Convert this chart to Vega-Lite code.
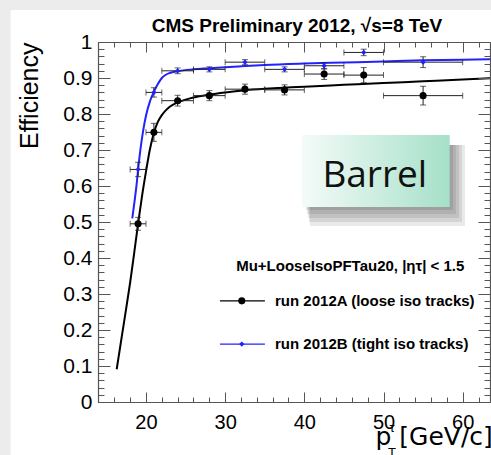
{
  "$schema": "https://vega.github.io/schema/vega-lite/v6.json",
  "width": 392,
  "height": 360,
  "autosize": "none",
  "padding": {"left": 98, "top": 42, "right": 1, "bottom": 53},
  "background": "#ececec",
  "config": {"view": {"stroke": null}, "font": "Liberation Sans"},
  "datasets": {
    "page": [{"x": 2.9, "x2": 70, "y": -0.2, "y2": 1.0889}],
    "heading": [{"x": 39.07, "y": 1.0278, "text": "CMS Preliminary 2012, √s=8 TeV"}],
    "shadow": [
      {"x": 40.21, "x2": 58.77, "y": 0.5333, "y2": 0.7139},
      {"x": 40.33, "x2": 59.15, "y": 0.5222, "y2": 0.7139},
      {"x": 40.46, "x2": 59.53, "y": 0.5111, "y2": 0.7139},
      {"x": 40.58, "x2": 59.91, "y": 0.5, "y2": 0.7139},
      {"x": 40.71, "x2": 60.29, "y": 0.4889, "y2": 0.7139}
    ],
    "box": [{"x": 39.68, "x2": 58.36, "y": 0.5417, "y2": 0.7417, "text": "Barrel", "tx": 48.9, "ty": 0.597}],
    "fits": [
      {"run": "A", "x": 16.3, "y": 0.091},
      {"run": "A", "x": 17, "y": 0.19},
      {"run": "A", "x": 17.5, "y": 0.26},
      {"run": "A", "x": 18, "y": 0.332},
      {"run": "A", "x": 18.5, "y": 0.412},
      {"run": "A", "x": 19, "y": 0.495},
      {"run": "A", "x": 19.5, "y": 0.572},
      {"run": "A", "x": 20, "y": 0.64},
      {"run": "A", "x": 20.5, "y": 0.702},
      {"run": "A", "x": 21, "y": 0.748},
      {"run": "A", "x": 21.5, "y": 0.778},
      {"run": "A", "x": 22, "y": 0.797},
      {"run": "A", "x": 22.5, "y": 0.81},
      {"run": "A", "x": 23, "y": 0.82},
      {"run": "A", "x": 24, "y": 0.832},
      {"run": "A", "x": 25, "y": 0.84},
      {"run": "A", "x": 26, "y": 0.846},
      {"run": "A", "x": 28, "y": 0.854},
      {"run": "A", "x": 30, "y": 0.86},
      {"run": "A", "x": 32.5, "y": 0.866},
      {"run": "A", "x": 35, "y": 0.87},
      {"run": "A", "x": 37.5, "y": 0.873},
      {"run": "A", "x": 40, "y": 0.876},
      {"run": "A", "x": 45, "y": 0.881},
      {"run": "A", "x": 50, "y": 0.886},
      {"run": "A", "x": 55, "y": 0.891},
      {"run": "A", "x": 60, "y": 0.896},
      {"run": "A", "x": 63.45, "y": 0.899},
      {"run": "B", "x": 18.27, "y": 0.51},
      {"run": "B", "x": 18.6, "y": 0.565},
      {"run": "B", "x": 18.83, "y": 0.607},
      {"run": "B", "x": 19, "y": 0.645},
      {"run": "B", "x": 19.3, "y": 0.702},
      {"run": "B", "x": 19.66, "y": 0.756},
      {"run": "B", "x": 20, "y": 0.795},
      {"run": "B", "x": 20.5, "y": 0.835},
      {"run": "B", "x": 21, "y": 0.862},
      {"run": "B", "x": 21.5, "y": 0.883},
      {"run": "B", "x": 22, "y": 0.9},
      {"run": "B", "x": 22.5, "y": 0.909},
      {"run": "B", "x": 23, "y": 0.914},
      {"run": "B", "x": 24, "y": 0.919},
      {"run": "B", "x": 26, "y": 0.924},
      {"run": "B", "x": 28, "y": 0.927},
      {"run": "B", "x": 30, "y": 0.93},
      {"run": "B", "x": 32.5, "y": 0.933},
      {"run": "B", "x": 35, "y": 0.936},
      {"run": "B", "x": 40, "y": 0.94},
      {"run": "B", "x": 45, "y": 0.943},
      {"run": "B", "x": 50, "y": 0.946},
      {"run": "B", "x": 55, "y": 0.949},
      {"run": "B", "x": 60, "y": 0.951},
      {"run": "B", "x": 63.45, "y": 0.952}
    ],
    "pts": [
      {"run": "A", "x": 19, "xlo": 18, "xhi": 20, "y": 0.495, "ylo": 0.477, "yhi": 0.513},
      {"run": "A", "x": 21, "xlo": 20, "xhi": 22, "y": 0.749, "ylo": 0.724, "yhi": 0.774},
      {"run": "A", "x": 24, "xlo": 22, "xhi": 26, "y": 0.837, "ylo": 0.822, "yhi": 0.852},
      {"run": "A", "x": 28, "xlo": 26, "xhi": 30, "y": 0.851, "ylo": 0.837, "yhi": 0.865},
      {"run": "A", "x": 32.5, "xlo": 30, "xhi": 35, "y": 0.869, "ylo": 0.855, "yhi": 0.883},
      {"run": "A", "x": 37.5, "xlo": 35, "xhi": 40, "y": 0.867, "ylo": 0.853, "yhi": 0.881},
      {"run": "A", "x": 42.5, "xlo": 40, "xhi": 45, "y": 0.911, "ylo": 0.896, "yhi": 0.926},
      {"run": "A", "x": 47.5, "xlo": 45, "xhi": 50, "y": 0.908, "ylo": 0.887, "yhi": 0.929},
      {"run": "A", "x": 55, "xlo": 50, "xhi": 60, "y": 0.851, "ylo": 0.825, "yhi": 0.877},
      {"run": "B", "x": 19, "xlo": 18, "xhi": 20, "y": 0.646, "ylo": 0.626, "yhi": 0.666},
      {"run": "B", "x": 21, "xlo": 20, "xhi": 22, "y": 0.86, "ylo": 0.847, "yhi": 0.873},
      {"run": "B", "x": 24, "xlo": 22, "xhi": 26, "y": 0.92, "ylo": 0.912, "yhi": 0.928},
      {"run": "B", "x": 28, "xlo": 26, "xhi": 30, "y": 0.924, "ylo": 0.917, "yhi": 0.931},
      {"run": "B", "x": 32.5, "xlo": 30, "xhi": 35, "y": 0.944, "ylo": 0.937, "yhi": 0.951},
      {"run": "B", "x": 37.5, "xlo": 35, "xhi": 40, "y": 0.924, "ylo": 0.917, "yhi": 0.931},
      {"run": "B", "x": 42.5, "xlo": 40, "xhi": 45, "y": 0.934, "ylo": 0.925, "yhi": 0.943},
      {"run": "B", "x": 47.5, "xlo": 45, "xhi": 50, "y": 0.971, "ylo": 0.962, "yhi": 0.98},
      {"run": "B", "x": 55, "xlo": 50, "xhi": 60, "y": 0.944, "ylo": 0.929, "yhi": 0.959}
    ],
    "legend": [
      {"run": "A", "x1": 29.34, "x2": 35.02, "mx": 32.1, "tx": 36.3, "y": 0.281, "label": "run 2012A (loose iso tracks)"},
      {"run": "B", "x1": 29.34, "x2": 35.02, "mx": 32.1, "tx": 36.3, "y": 0.161, "label": "run 2012B (tight iso tracks)"}
    ],
    "header": [{"x": 45.8, "y": 0.379, "text": "Mu+LooseIsoPFTau20, |ητ| < 1.5"}],
    "sups": [
      {"x": 51.07, "y": -0.0833, "text": "τ"},
      {"x": 51.07, "y": -0.153, "text": "T"}
    ]
  },
  "resolve": {"axis": {"x": "independent", "y": "independent"}},
  "layer": [
    {
      "data": {"name": "page"},
      "mark": {"type": "rect", "color": "#ffffff"},
      "encoding": {
        "x": {"field": "x", "type": "quantitative", "scale": {"domain": [13.94, 63.45], "nice": false, "zero": false}, "axis": null},
        "x2": {"field": "x2"},
        "y": {"field": "y", "type": "quantitative", "scale": {"domain": [0, 1], "nice": false, "zero": false}, "axis": null},
        "y2": {"field": "y2"}
      }
    },
    {
      "data": {"name": "heading"},
      "mark": {"type": "text", "font": "Liberation Sans", "fontSize": 19, "fontWeight": "bold", "align": "center", "baseline": "alphabetic", "color": "#000000"},
      "encoding": {
        "x": {"field": "x", "type": "quantitative", "scale": {"domain": [13.94, 63.45], "nice": false, "zero": false}, "axis": null},
        "y": {"field": "y", "type": "quantitative", "scale": {"domain": [0, 1], "nice": false, "zero": false}, "axis": null},
        "text": {"field": "text"}
      }
    },
    {
      "data": {"name": "shadow"},
      "mark": {"type": "rect", "color": "#000000", "opacity": 0.085},
      "encoding": {
        "x": {"field": "x", "type": "quantitative", "scale": {"domain": [13.94, 63.45], "nice": false, "zero": false}, "axis": null},
        "x2": {"field": "x2"},
        "y": {"field": "y", "type": "quantitative", "scale": {"domain": [0, 1], "nice": false, "zero": false}, "axis": null},
        "y2": {"field": "y2"}
      }
    },
    {
      "data": {"name": "box"},
      "mark": {"type": "rect", "fill": {"gradient": "linear", "x1": 0, "y1": 0, "x2": 1, "y2": 0, "stops": [{"offset": 0, "color": "#f4fbf8"}, {"offset": 1, "color": "#a6e0c9"}]}, "stroke": null},
      "encoding": {
        "x": {"field": "x", "type": "quantitative", "scale": {"domain": [13.94, 63.45], "nice": false, "zero": false}, "axis": null},
        "x2": {"field": "x2"},
        "y": {"field": "y", "type": "quantitative", "scale": {"domain": [0, 1], "nice": false, "zero": false}, "axis": null},
        "y2": {"field": "y2"}
      }
    },
    {
      "data": {"name": "box"},
      "mark": {"type": "text", "font": "Open Sans", "fontSize": 37, "align": "center", "baseline": "alphabetic", "color": "#111111"},
      "encoding": {
        "x": {"field": "tx", "type": "quantitative", "scale": {"domain": [13.94, 63.45], "nice": false, "zero": false}, "axis": null},
        "y": {"field": "ty", "type": "quantitative", "scale": {"domain": [0, 1], "nice": false, "zero": false}, "axis": null},
        "text": {"field": "text"}
      }
    },
    {
      "data": {"name": "fits"},
      "mark": {"type": "line", "strokeWidth": 2, "interpolate": "monotone"},
      "encoding": {
        "x": {"field": "x", "type": "quantitative", "scale": {"domain": [13.94, 63.45], "nice": false, "zero": false},
          "axis": {"values": [14,16,18,20,22,24,26,28,30,32,34,36,38,40,42,44,46,48,50,52,54,56,58,60,62],
            "labelExpr": "datum.value % 10 === 0 ? datum.label : ''",
            "tickSize": {"condition": {"test": "datum.value % 10 === 0", "value": -10}, "value": -5},
            "labelPadding": 20, "labelFontSize": 20, "labelFont": "Liberation Sans", "labelColor": "#000000",
            "labelOverlap": false, "labelFlush": false, "labelBound": false,
            "tickColor": "#555555", "domainColor": "#555555", "domainWidth": 1.2, "grid": false, "zindex": 1,
            "title": "p [GeV/c]", "titleFont": "DejaVu Sans", "titleFontSize": 25, "titleFontWeight": "normal", "titleColor": "#000000",
            "titleX": 277, "titleY": 42, "titleAlign": "left", "titleBaseline": "alphabetic", "titleAnchor": "start"}},
        "y": {"field": "y", "type": "quantitative", "scale": {"domain": [0, 1], "nice": false, "zero": false},
          "axis": {"values": [0,0.02,0.04,0.06,0.08,0.1,0.12,0.14,0.16,0.18,0.2,0.22,0.24,0.26,0.28,0.3,0.32,0.34,0.36,0.38,0.4,0.42,0.44,0.46,0.48,0.5,0.52,0.54,0.56,0.58,0.6,0.62,0.64,0.66,0.68,0.7,0.72,0.74,0.76,0.78,0.8,0.82,0.84,0.86,0.88,0.9,0.92,0.94,0.96,0.98,1],
            "labelExpr": "abs(datum.value*10 - round(datum.value*10)) < 0.001 ? format(datum.value, '.1~f') : ''",
            "tickSize": {"condition": {"test": "abs(datum.value*10 - round(datum.value*10)) < 0.001", "value": -12}, "value": -6},
            "labelPadding": 18, "labelFontSize": 21, "labelFont": "Liberation Sans", "labelColor": "#000000",
            "labelOverlap": false, "labelFlush": false, "labelBound": false,
            "tickColor": "#555555", "domainColor": "#555555", "domainWidth": 1.2, "grid": false, "zindex": 1,
            "title": "Efficiency", "titleFont": "Liberation Sans", "titleFontSize": 25, "titleFontWeight": "normal", "titleColor": "#000000",
            "titleAnchor": "end", "titlePadding": 20}},
        "color": {"field": "run", "type": "nominal", "scale": {"domain": ["A", "B"], "range": ["#000000", "#2222ff"]}, "legend": null}
      }
    },
    {
      "data": {"name": "pts"},
      "mark": {"type": "errorbar", "color": "#222222", "thickness": 1, "ticks": {"size": 6, "thickness": 1}},
      "encoding": {
        "x": {"field": "xlo", "type": "quantitative", "scale": {"domain": [13.94, 63.45], "nice": false, "zero": false}, "axis": null},
        "x2": {"field": "xhi"},
        "y": {"field": "y", "type": "quantitative", "scale": {"domain": [0, 1], "nice": false, "zero": false}, "axis": null}
      }
    },
    {
      "data": {"name": "pts"},
      "mark": {"type": "errorbar", "color": "#222222", "thickness": 1, "ticks": {"size": 6, "thickness": 1}},
      "encoding": {
        "y": {"field": "ylo", "type": "quantitative", "scale": {"domain": [0, 1], "nice": false, "zero": false}, "axis": null},
        "y2": {"field": "yhi"},
        "x": {"field": "x", "type": "quantitative", "scale": {"domain": [13.94, 63.45], "nice": false, "zero": false}, "axis": null}
      }
    },
    {
      "data": {"name": "pts"},
      "mark": {"type": "point", "filled": true, "opacity": 1},
      "encoding": {
        "x": {"field": "x", "type": "quantitative", "scale": {"domain": [13.94, 63.45], "nice": false, "zero": false},
          "axis": {"orient": "top", "values": [14,16,18,20,22,24,26,28,30,32,34,36,38,40,42,44,46,48,50,52,54,56,58,60,62],
            "labels": false, "title": null,
            "tickSize": {"condition": {"test": "datum.value % 10 === 0", "value": -10}, "value": -5},
            "tickColor": "#555555", "domainColor": "#555555", "domainWidth": 1.2, "grid": false, "zindex": 1}},
        "y": {"field": "y", "type": "quantitative", "scale": {"domain": [0, 1], "nice": false, "zero": false},
          "axis": {"orient": "right", "values": [0,0.02,0.04,0.06,0.08,0.1,0.12,0.14,0.16,0.18,0.2,0.22,0.24,0.26,0.28,0.3,0.32,0.34,0.36,0.38,0.4,0.42,0.44,0.46,0.48,0.5,0.52,0.54,0.56,0.58,0.6,0.62,0.64,0.66,0.68,0.7,0.72,0.74,0.76,0.78,0.8,0.82,0.84,0.86,0.88,0.9,0.92,0.94,0.96,0.98,1],
            "labels": false, "title": null,
            "tickSize": {"condition": {"test": "abs(datum.value*10 - round(datum.value*10)) < 0.001", "value": -12}, "value": -6},
            "tickColor": "#555555", "domainColor": "#555555", "domainWidth": 1.2, "grid": false, "zindex": 1}},
        "color": {"field": "run", "type": "nominal", "scale": {"domain": ["A", "B"], "range": ["#000000", "#2222ff"]}, "legend": null},
        "shape": {"field": "run", "type": "nominal", "scale": {"domain": ["A", "B"], "range": ["circle", "diamond"]}, "legend": null},
        "size": {"field": "run", "type": "nominal", "scale": {"domain": ["A", "B"], "range": [50, 28]}, "legend": null}
      }
    },
    {
      "data": {"name": "legend"},
      "mark": {"type": "rule", "strokeWidth": 1.3},
      "encoding": {
        "x": {"field": "x1", "type": "quantitative", "scale": {"domain": [13.94, 63.45], "nice": false, "zero": false}, "axis": null},
        "x2": {"field": "x2"},
        "y": {"field": "y", "type": "quantitative", "scale": {"domain": [0, 1], "nice": false, "zero": false}, "axis": null},
        "color": {"field": "run", "type": "nominal", "scale": {"domain": ["A", "B"], "range": ["#000000", "#2222ff"]}, "legend": null}
      }
    },
    {
      "data": {"name": "legend"},
      "mark": {"type": "point", "filled": true, "opacity": 1},
      "encoding": {
        "x": {"field": "mx", "type": "quantitative", "scale": {"domain": [13.94, 63.45], "nice": false, "zero": false}, "axis": null},
        "y": {"field": "y", "type": "quantitative", "scale": {"domain": [0, 1], "nice": false, "zero": false}, "axis": null},
        "color": {"field": "run", "type": "nominal", "scale": {"domain": ["A", "B"], "range": ["#000000", "#2222ff"]}, "legend": null},
        "shape": {"field": "run", "type": "nominal", "scale": {"domain": ["A", "B"], "range": ["circle", "diamond"]}, "legend": null},
        "size": {"field": "run", "type": "nominal", "scale": {"domain": ["A", "B"], "range": [40, 24]}, "legend": null}
      }
    },
    {
      "data": {"name": "legend"},
      "mark": {"type": "text", "font": "Liberation Sans", "fontWeight": "bold", "fontSize": 15, "align": "left", "baseline": "middle", "color": "#000000"},
      "encoding": {
        "x": {"field": "tx", "type": "quantitative", "scale": {"domain": [13.94, 63.45], "nice": false, "zero": false}, "axis": null},
        "y": {"field": "y", "type": "quantitative", "scale": {"domain": [0, 1], "nice": false, "zero": false}, "axis": null},
        "text": {"field": "label"}
      }
    },
    {
      "data": {"name": "header"},
      "mark": {"type": "text", "font": "Liberation Sans", "fontWeight": "bold", "fontSize": 15, "align": "center", "baseline": "middle", "color": "#000000"},
      "encoding": {
        "x": {"field": "x", "type": "quantitative", "scale": {"domain": [13.94, 63.45], "nice": false, "zero": false}, "axis": null},
        "y": {"field": "y", "type": "quantitative", "scale": {"domain": [0, 1], "nice": false, "zero": false}, "axis": null},
        "text": {"field": "text"}
      }
    },
    {
      "data": {"name": "sups"},
      "mark": {"type": "text", "font": "Liberation Sans", "fontSize": 13, "align": "center", "baseline": "alphabetic", "color": "#000000"},
      "encoding": {
        "x": {"field": "x", "type": "quantitative", "scale": {"domain": [13.94, 63.45], "nice": false, "zero": false}, "axis": null},
        "y": {"field": "y", "type": "quantitative", "scale": {"domain": [0, 1], "nice": false, "zero": false}, "axis": null},
        "text": {"field": "text"}
      }
    }
  ]
}
